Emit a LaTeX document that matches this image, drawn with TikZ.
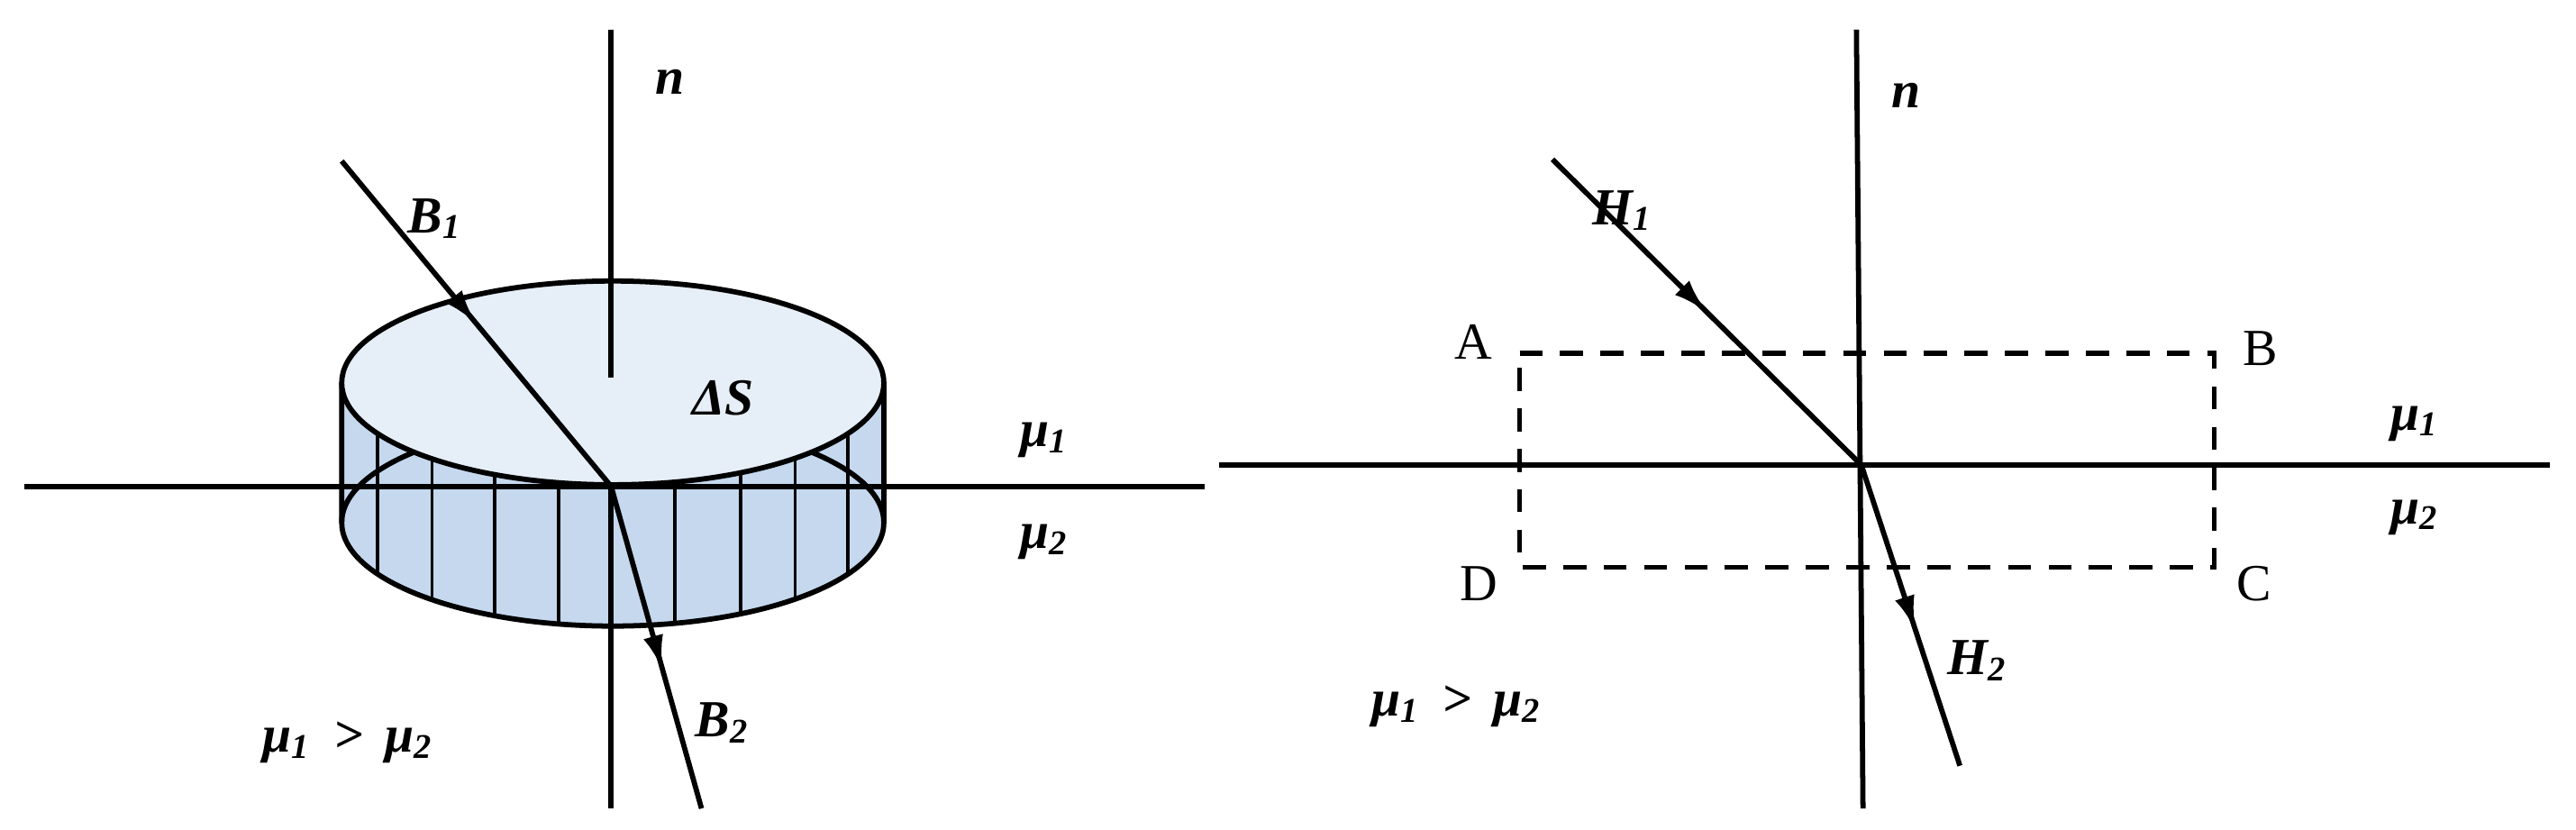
\documentclass[tikz,border=0pt]{standalone}
\usepackage{fontspec}
\setmainfont{Liberation Serif}
\usetikzlibrary{arrows.meta,decorations.markings}
\definecolor{topblue}{HTML}{E6EEF8}
\definecolor{sideblue}{HTML}{C5D8EE}
\tikzset{
  ln/.style={line width=0.9pt},
  ray/.style={ln,decoration={markings,mark=at position #1 with {\arrow{Latex[length=6pt,width=3.5pt]}}},postaction={decorate}},
  lbl/.style={font=\fontsize{9}{10}\selectfont\bfseries\itshape,inner sep=0pt},
  corner/.style={font=\fontsize{9}{10}\selectfont,inner sep=0pt}
}
\begin{document}
\begin{tikzpicture}[x=0.01cm,y=-0.01cm]
      \useasboundingbox (0,0) rectangle (1568,505);
      % left panel: pillbox
      \fill[sideblue] (208,233) -- (208,318) arc[start angle=180,end angle=360,x radius=165,y radius=-63] -- (538,233) -- cycle;
      \draw[ln] (208,318) arc[start angle=180,end angle=0,x radius=165,y radius=-63];
      \draw[ln] (208,233) -- (208,318) arc[start angle=180,end angle=360,x radius=165,y radius=-63] -- (538,233);
      \foreach \xx in {230,263,301,340,411,451,484,516} {
        \pgfmathsetmacro{\yt}{233+62*sqrt(1-((\xx-373)/165)^2)}
        \pgfmathsetmacro{\yb}{318+63*sqrt(1-((\xx-373)/165)^2)}
        \draw[line width=0.6pt] (\xx,\yt) -- (\xx,\yb);
      }
      \draw[ln,fill=topblue] (373,233) ellipse[x radius=165,y radius=62];
      \coordinate (o1) at (372,296);
      \coordinate (n1t) at (372,18);
      \coordinate (n1m) at (372,230);
      \coordinate (n1b) at (372,492);
      \draw[ln] (15,296) coordinate (h1l) -- (733,296) coordinate (h1r);
      \draw[ln] (n1t) -- (n1m);
      \draw[ln] (o1) -- (n1b);
      \draw[ray=0.5] (208,98) coordinate (b1s) -- (o1);
      \draw[ray=0.57] (o1) -- (427,492) coordinate (b2e);
      \node[lbl] (n1) at (408,50) {n};
      \node[lbl] (ds) at (440,242) {ΔS};
      \node[lbl] (b1) at (265,133) {B\textsubscript{1}};
      \node[lbl] (b2) at (440,440) {B\textsubscript{2}};
      \node[lbl] (m1a) at (636,268) {μ\textsubscript{1}};
      \node[lbl] (m2a) at (636,330) {μ\textsubscript{2}};
      \node[lbl] (ga) at (212,452) {μ\textsubscript{1} \,>\, μ\textsubscript{2}};
      % right panel: rectangle path
      \coordinate (o2) at (1133,283);
      \draw[ln] (742,283) coordinate (h2l) -- (1552,283) coordinate (h2r);
      \draw[ln] (1130,18) coordinate (n2t) -- (1134,492) coordinate (n2b);
      \draw[line width=0.8pt,dash pattern=on 4pt off 3pt] (925,215) coordinate (pa) -- (1348,215) coordinate (pb)
        -- (1348,345) coordinate (pc) -- (925,345) coordinate (pd) -- cycle;
      \draw[ray=0.5] (945,97) coordinate (h1s) -- (o2);
      \draw[ray=0.55] (o2) -- (1193,466) coordinate (h2e);
      \node[corner] (a) at (897,208) {A};
      \node[corner] (b) at (1376,212) {B};
      \node[corner] (c) at (1372,355) {C};
      \node[corner] (d) at (900,355) {D};
      \node[lbl] (n2) at (1160,58) {n};
      \node[lbl] (h1) at (988,128) {H\textsubscript{1}};
      \node[lbl] (h2) at (1204,402) {H\textsubscript{2}};
      \node[lbl] (m1b) at (1470,258) {μ\textsubscript{1}};
      \node[lbl] (m2b) at (1470,315) {μ\textsubscript{2}};
      \node[lbl] (gb) at (887,430) {μ\textsubscript{1} \,>\, μ\textsubscript{2}};
\end{tikzpicture}
\end{document}
